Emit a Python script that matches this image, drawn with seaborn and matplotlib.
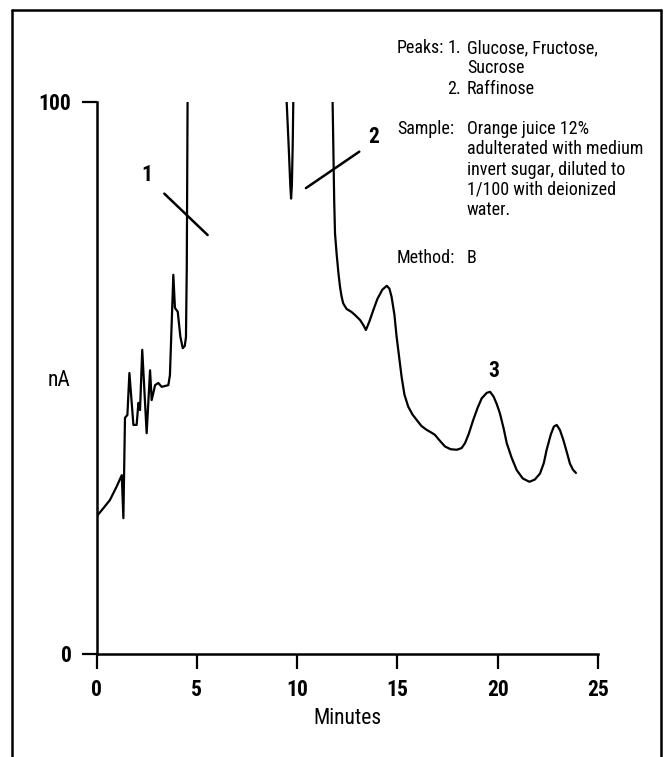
import pandas as pd
import matplotlib
matplotlib.use("Agg")
import matplotlib.pyplot as plt
from matplotlib import font_manager as fm
from matplotlib.lines import Line2D
import seaborn as sns

# Chromatogram trace (minutes, nA); the trace leaves the
# scale above 100 between the segments, so it is kept as three pieces
seg1_t = [0.0, 0.34, 0.67, 1.0, 1.26, 1.34, 1.42, 1.54, 1.64, 1.84, 2.0, 2.09,
          2.17, 2.28, 2.5, 2.67, 2.75, 2.92, 3.08, 3.25, 3.58, 3.66, 3.83, 3.91,
          4.05, 4.18, 4.3, 4.4, 4.46, 4.5, 4.54]
seg1_y = [24.9, 26.4, 27.9, 30.3, 32.4, 24.6, 42.8, 43.3, 50.9, 41.5, 41.5, 45.5,
          44.2, 55.1, 40.0, 51.4, 46.0, 48.7, 49.1, 48.4, 48.7, 50.5, 68.7, 62.7,
          62.0, 57.5, 55.4, 55.8, 57.4, 70.0, 100.0]
seg2_t = [9.48, 9.58, 9.66, 9.7, 9.74, 9.78, 9.81]
seg2_y = [100.0, 92.0, 85.0, 82.5, 85.0, 92.0, 100.0]
seg3_t = [11.77, 11.85, 11.89, 11.97, 12.06, 12.14, 12.22, 12.3, 12.47, 12.7, 12.89,
          13.14, 13.3, 13.43, 13.6, 13.8, 14.0, 14.25, 14.47, 14.6, 14.71, 14.85,
          14.96, 15.21, 15.35, 15.54, 15.75, 15.96, 16.2, 16.46, 16.7, 16.87, 17.1,
          17.37, 17.65, 17.96, 18.2, 18.37, 18.55, 18.78, 19.0, 19.2, 19.45, 19.62,
          19.8, 19.95, 20.11, 20.3, 20.45, 20.7, 20.95, 21.25, 21.58, 21.85, 22.11,
          22.3, 22.44, 22.65, 22.8, 22.94, 23.1, 23.27, 23.45, 23.6, 23.75, 23.9]
seg3_y = [100.0, 82.0, 76.2, 72.5, 69.0, 66.5, 64.7, 63.5, 62.5, 62.0, 61.4,
          60.5, 59.6, 58.7, 60.2, 62.3, 64.3, 66.0, 66.7, 66.2, 64.7, 61.5,
          57.5, 50.2, 47.0, 44.8, 43.4, 42.4, 41.3, 40.6, 40.1, 39.7, 38.7,
          37.6, 37.1, 37.0, 37.3, 38.2, 39.8, 42.4, 44.6, 46.3, 47.3, 47.5,
          46.6, 45.3, 43.6, 40.8, 38.2, 35.5, 33.3, 31.8, 31.2, 31.6, 32.7,
          34.6, 37.0, 39.8, 41.2, 41.5, 40.6, 38.8, 36.5, 34.5, 33.4, 32.8]

x_ticks = [0, 5, 10, 15, 20, 25]
y_ticks = [0, 100]

peak_labels = ["1", "2", "3"]
peak_label_pos = [(2.5, 86.8), (13.8, 93.6), (19.78, 51.3)]
leader_lines = [((3.38, 83.4), (5.54, 75.9)), ((10.44, 84.4), (13.1, 91.0))]

peaks_rows = [("Peaks:", "1.", "Glucose, Fructose,"), ("", "", "Sucrose"),
              ("", "2.", "Raffinose")]
sample_rows = ["Orange juice 12%", "adulterated with medium",
               "invert sugar, diluted to", "1/100 with deionized", "water."]


def pick_font():
    """Look for a narrow sans; fall back to Liberation Sans set smaller."""
    entries = fm.fontManager.ttflist
    names = {f.name for f in entries}
    for name, size in [("Liberation Sans Narrow", 13.5), ("Roboto Condensed", 13),
                       ("Noto Sans Condensed", 12.5), ("Open Sans Condensed", 13),
                       ("Noto Sans SemiCondensed", 12)]:
        if name in names:
            return name, "normal", size
    for f in entries:
        if f.name in ("Noto Sans", "Roboto", "DejaVu Sans") and f.stretch == "condensed":
            return f.name, "condensed", 12.5
    return "Liberation Sans", "normal", 11


def main():
    sns.set_style("ticks")
    fam, stretch, fs = pick_font()
    plt.rcParams["font.family"] = [fam, "DejaVu Sans"]
    plt.rcParams["font.stretch"] = stretch
    for key in ["text.color", "axes.labelcolor", "xtick.color", "ytick.color",
                "axes.edgecolor"]:
        plt.rcParams[key] = "black"

    W, H = 665, 757
    fig = plt.figure(figsize=(W / 100, H / 100), dpi=100)
    ax = fig.add_axes([96.5 / W, 103 / H, 501.5 / W, 552 / H])

    frames = []
    for i, (t, y) in enumerate([(seg1_t, seg1_y), (seg2_t, seg2_y), (seg3_t, seg3_y)]):
        frames.append(pd.DataFrame({"t": t, "nA": y, "seg": i}))
    df = pd.concat(frames, ignore_index=True)

    sns.lineplot(data=df, x="t", y="nA", units="seg", estimator=None,
                 color="black", linewidth=1.6, ax=ax)

    ax.set_xlim(0, 25)
    ax.set_ylim(0, 100)
    sns.despine(ax=ax)
    for s in ["left", "bottom"]:
        ax.spines[s].set_linewidth(1.8)
    ax.set_xticks(x_ticks)
    ax.set_yticks(y_ticks)
    big = fs + 2.5
    ax.tick_params(axis="both", length=11, width=1.6, direction="out",
                   labelsize=big, pad=7)
    for lab in ax.get_xticklabels() + ax.get_yticklabels():
        lab.set_fontweight("bold")

    ax.set_xlabel("Minutes", fontsize=big, labelpad=5)
    ax.set_ylabel("nA", fontsize=big, rotation=0, va="center", ha="center")
    ax.yaxis.set_label_coords(-0.075, 0.495)

    for lab, (x, y) in zip(peak_labels, peak_label_pos):
        ax.text(x, y, lab, fontsize=big, fontweight="bold", ha="center", va="center")
    for (x0, y0), (x1, y1) in leader_lines:
        ax.annotate("", xy=(x1, y1), xytext=(x0, y0),
                    arrowprops=dict(arrowstyle="-", color="black", lw=1.8,
                                    shrinkA=0, shrinkB=0))

    # notes block at the top right
    row_h = 20.3
    y0 = 48
    for i, (a, b, c) in enumerate(peaks_rows):
        yy = 1 - (y0 + i * row_h) / H
        fig.text(397 / W, yy, a, fontsize=fs, va="center")
        fig.text(461 / W, yy, b, fontsize=fs, va="center", ha="right")
        fig.text(467 / W, yy, c, fontsize=fs, va="center")
    y0 = 129
    fig.text(397 / W, 1 - y0 / H, "Sample:", fontsize=fs, va="center")
    for i, line in enumerate(sample_rows):
        fig.text(467 / W, 1 - (y0 + i * row_h) / H, line, fontsize=fs, va="center")
    fig.text(397 / W, 1 - 258 / H, "Method:", fontsize=fs, va="center")
    fig.text(467 / W, 1 - 258 / H, "B", fontsize=fs, va="center")

    # page frame around the figure (open at the bottom)
    fx = lambda p: p / W
    fy = lambda p: 1 - p / H
    for xs, ys in [([12, 12], [10, H]), ([12, 661], [10, 10]), ([661, 661], [10, H])]:
        fig.add_artist(Line2D([fx(v) for v in xs], [fy(v) for v in ys],
                              color="black", lw=1.8, transform=fig.transFigure))

    fig.savefig("out.png", dpi=100, facecolor="white")
    plt.close(fig)


if __name__ == "__main__":
    main()
